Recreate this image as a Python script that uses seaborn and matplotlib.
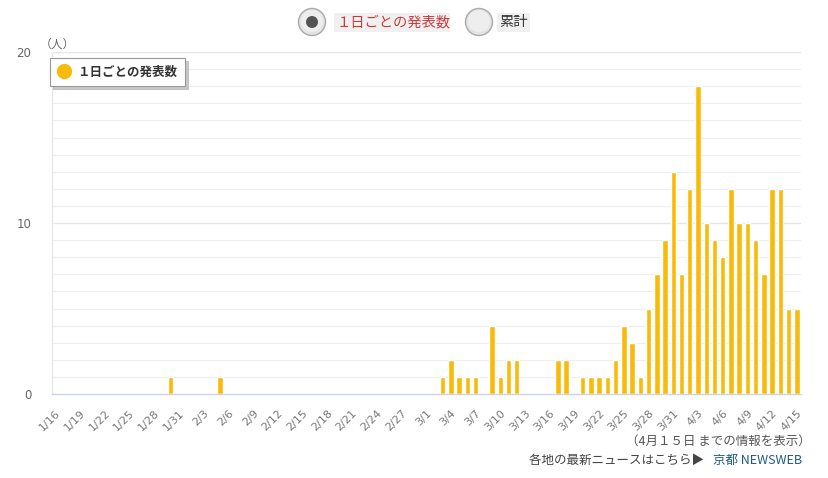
import matplotlib
matplotlib.use("Agg")
import matplotlib.pyplot as plt
import matplotlib.patches as mpatches
from matplotlib.lines import Line2D
import seaborn as sns
import pandas as pd
import numpy as np

# ---- data ----
jan_days = list(range(16, 32))
feb_days = list(range(1, 30))
mar_days = list(range(1, 32))
apr_days = list(range(1, 16))

jan_counts = [0, 0, 0, 0, 0, 0, 0, 0, 0, 0, 0, 0, 0, 0, 1, 0]
feb_counts = [0, 0, 0, 0, 1, 0, 0, 0, 0, 0, 0, 0, 0, 0, 0, 0, 0, 0, 0, 0,
              0, 0, 0, 0, 0, 0, 0, 0, 0]
mar_counts = [0, 0, 1, 2, 1, 1, 1, 0, 4, 1, 2, 2, 0, 0, 0, 0, 2, 2, 0, 1,
              1, 1, 1, 2, 4, 3, 1, 5, 7, 9, 13]
apr_counts = [7, 12, 18, 10, 9, 8, 12, 10, 10, 9, 7, 12, 12, 5, 5]

series_name = "１日ごとの発表数"
cum_name = "累計"
unit_label = "（人）"
note_text = "（4月１５日 までの情報を表示）"
link_prefix = "各地の最新ニュースはこちら▶ "
link_text = "京都 NEWSWEB"

labels = ([f"1/{d}" for d in jan_days] + [f"2/{d}" for d in feb_days] +
          [f"3/{d}" for d in mar_days] + [f"4/{d}" for d in apr_days])
counts = jan_counts + feb_counts + mar_counts + apr_counts
df = pd.DataFrame({"date": labels, "count": counts})

# ---- style ----
sns.set_theme(style="white")
plt.rcParams["font.family"] = ["Noto Sans CJK JP", "DejaVu Sans"]

BAR = "#f9bb0b"
GRID = "#e6e6e6"
AXIS = "#ccd6eb"
TXT = "#666666"

W, H = 829, 478
fig = plt.figure(figsize=(W / 100, H / 100), dpi=100)
fig.patch.set_facecolor("white")

left, right, top, bottom = 52, 801, 52, 394
ax = fig.add_axes([left / W, 1 - bottom / H, (right - left) / W, (bottom - top) / H])

sns.barplot(data=df, x="date", y="count", order=labels, color=BAR,
            saturation=1, width=0.66, ax=ax, zorder=3)

ax.set_xlim(-0.4, len(labels) - 0.5)
ax.set_ylim(0, 20)
ax.set_xlabel("")
ax.set_ylabel("")

# grid
ax.set_yticks([0, 10, 20])
ax.set_yticks(np.arange(1, 20), minor=True)
ax.yaxis.grid(True, which="major", color=GRID, linewidth=0.9, zorder=0)
ax.yaxis.grid(True, which="minor", color="#eeeeee", linewidth=0.8, zorder=0)
ax.xaxis.grid(False)
ax.set_axisbelow(True)
ax.tick_params(axis="y", which="major", length=5, color=GRID, width=0.9,
               labelsize=9.5, labelcolor=TXT, pad=10)
for t in ax.get_yticklabels():
    t.set_fontfamily("DejaVu Sans")
    t.set_fontsize(8.5)
ax.tick_params(axis="y", which="minor", length=0)

# x ticks
tick_idx = list(range(0, len(labels), 3))
ax.set_xticks(tick_idx)
ax.set_xticklabels([labels[i] for i in tick_idx], rotation=45, ha="right",
                   rotation_mode="anchor", fontsize=8, color="#777777",
                   fontfamily="DejaVu Sans")
ax.tick_params(axis="x", length=7, color=AXIS, width=1, pad=3)

for s in ["top", "right"]:
    ax.spines[s].set_visible(False)
ax.spines["left"].set_color(GRID)
ax.spines["left"].set_linewidth(0.9)
ax.spines["bottom"].set_color(AXIS)
ax.spines["bottom"].set_linewidth(1)

# legend
handle = Line2D([], [], marker="o", linestyle="", markersize=10,
                markerfacecolor=BAR, markeredgecolor=BAR)
leg = ax.legend([handle], [series_name], loc="upper left",
                bbox_to_anchor=(50 / W, 1 - 58 / H), bbox_transform=fig.transFigure,
                frameon=True, fancybox=False,
                shadow={"ox": 2, "oy": -2, "color": "#bbbbbb", "alpha": 0.8},
                edgecolor="#999999",
                prop={"size": 9, "weight": "bold"}, handletextpad=0.6,
                borderpad=0.6, handlelength=1.0, borderaxespad=0)
leg.get_frame().set_linewidth(0.8)
for t in leg.get_texts():
    t.set_color("#333333")

# overlay in pixel coordinates
ov = fig.add_axes([0, 0, 1, 1], zorder=10)
ov.set_xlim(0, W)
ov.set_ylim(H, 0)
ov.axis("off")
ov.patch.set_alpha(0)

ov.text(40, 44, unit_label, fontsize=8.5, color=TXT, ha="left", va="center")

# radio buttons
for cx, on in [(312, True), (479, False)]:
    ov.add_patch(mpatches.Circle((cx, 22), 13.5, facecolor="#e4e4e4",
                                 edgecolor="#aaaaaa", linewidth=1.0))
    ov.add_patch(mpatches.Circle((cx, 21), 11, facecolor="#eeeeee",
                                 edgecolor="none"))
    if on:
        ov.add_patch(mpatches.Circle((cx, 22), 6, facecolor="#555555",
                                     edgecolor="none"))
ov.add_patch(mpatches.Rectangle((334, 13), 116, 19, facecolor="#f0f0f0",
                                edgecolor="none"))
ov.text(336, 22, series_name, fontsize=10.3, color="#cc3a3a", ha="left",
        va="center")
ov.add_patch(mpatches.Rectangle((497, 13), 33, 19, facecolor="#f0f0f0",
                                edgecolor="none"))
ov.text(499, 22, cum_name, fontsize=10.3, color="#333333", ha="left",
        va="center")

# footer
ov.text(811, 441, note_text, fontsize=9, color="#555555", ha="right",
        va="center")
ov.text(802, 460, link_text, fontsize=9, color="#1f5a85", ha="right",
        va="center")
ov.text(707, 460, link_prefix, fontsize=9, color="#444444", ha="right",
        va="center")

fig.savefig("out.png", dpi=100, facecolor="white")
